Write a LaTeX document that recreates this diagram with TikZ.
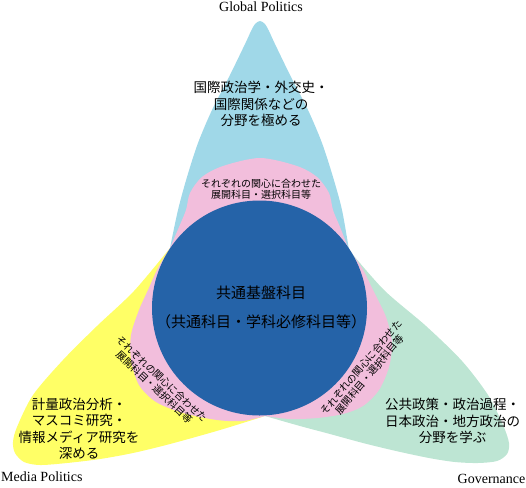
\documentclass[tikz,border=0pt]{standalone}
\usepackage{fontspec}
\setmainfont{Liberation Serif}
\newfontfamily\jpfont{Noto Sans CJK JP}

\definecolor{globalcol}{HTML}{A0D8E8}
\definecolor{mediacol}{HTML}{FFFF66}
\definecolor{govcol}{HTML}{BDE5D3}
\definecolor{choicecol}{HTML}{F2BEDC}
\definecolor{corecol}{HTML}{2563A8}

% outer edges of the three petals, notch to notch
\newcommand\globalpetal{plot[smooth, tension=0.5] coordinates {(170,248) (178,210) (187,177) (198,143) (212,110) (229,77) (245.5,43) (251,31) (255,24) (260,21) (265,24) (269,31) (274.5,43) (291,77) (308,110) (322,143) (333,177) (342,210) (349,250)}}
\newcommand\govpetal{plot[smooth, tension=0.5] coordinates {(349,250) (384,290) (426,326) (462,361) (488,395) (503,425) (509,443) (507,454) (497,461) (478,463) (455,462) (429,458) (396,451) (363,443) (330,434) (300,426) (265,416)}}
\newcommand\mediapetal{plot[smooth, tension=0.5] coordinates {(265,416) (220,430) (170,444) (133,453) (100,459) (67,463) (40,465) (24,462) (15,453) (13,442) (17,427) (33,395) (63,360) (97,326) (134,291) (170,248)}}

\begin{document}
\begin{tikzpicture}[x=1pt, y=-1pt,
    fieldlabel/.style={font=\fontsize{14}{16}\selectfont, inner sep=0pt},
    arealabel/.style={font=\jpfont\fontsize{13.5}{16.5}\selectfont, align=center, inner sep=0pt},
    choicelabel/.style={font=\jpfont\fontsize{10}{11}\selectfont, align=center, inner sep=0pt},
    corelabel/.style={font=\jpfont\fontsize{15}{29}\selectfont, align=center, inner sep=0pt}]
  \useasboundingbox (0,0) rectangle (526,487);
  \coordinate (c) at (259.5,308);

  % Petals
  \fill[globalcol] \globalpetal -- (c) -- cycle;
  \fill[govcol] \govpetal -- (c) -- cycle;
  \fill[mediacol] \mediapetal -- (c) -- cycle;

  % Elective ring
  \begin{scope}
    \clip \globalpetal -- (c) -- cycle \govpetal -- (c) -- cycle \mediapetal -- (c) -- cycle;
    \fill[choicecol]
      plot[smooth] coordinates {(170,248) (179,227) (186,210) (190,193) (202,177) (223,166) (260,158) (297,166) (317,177) (329,193) (333,210) (340,227) (349,250)} -- (c) -- cycle
      plot[smooth] coordinates {(349,250) (362,268) (373,290) (386,317) (392,343) (389,367) (379,390) (363,406) (343,414) (317,418) (290,419) (265,416)} -- (c) -- cycle
      plot[smooth] coordinates {(265,416) (243,421) (217,420) (183,413) (156,402) (139,385) (131,360) (131,335) (139,310) (148,290) (158,268) (170,248)} -- (c) -- cycle;
  \end{scope}

  % Core circle
  \fill[corecol] (c) circle [radius=107.5];

  % Field names
  \node[fieldlabel, anchor=base] (global) at (261,11.7) {Global Politics};
  \node[fieldlabel, anchor=base west] (media) at (1,481.7) {Media Politics};
  \node[fieldlabel, anchor=base east] (gov) at (525.5,483) {Governance};

  % Petal texts
  \node[arealabel] (globaltext) at (261,104) {国際政治学・外交史・\\国際関係などの\\分野を極める};
  \node[arealabel] (mediatext) at (79,429) {計量政治分析・\\マスコミ研究・\\情報メディア研究を\\深める};
  \node[arealabel] (govtext) at (452.5,421) {公共政策・政治過程・\\日本政治・地方政治の\\分野を学ぶ};

  % Ring texts
  \node[choicelabel] (choicetop) at (261,189) {それぞれの関心に合わせた\\展開科目・選択科目等};
  \node[choicelabel, rotate=-43] (choiceleft) at (158,383) {それぞれの関心に合わせた\\展開科目・選択科目等};
  \node[choicelabel, rotate=50] (choiceright) at (365.5,371) {それぞれの関心に合わせた\\展開科目・選択科目等};

  % Core text
  \node[corelabel] (core) at (261,307.5) {共通基盤科目\\（共通科目・学科必修科目等）};
\end{tikzpicture}
\end{document}
